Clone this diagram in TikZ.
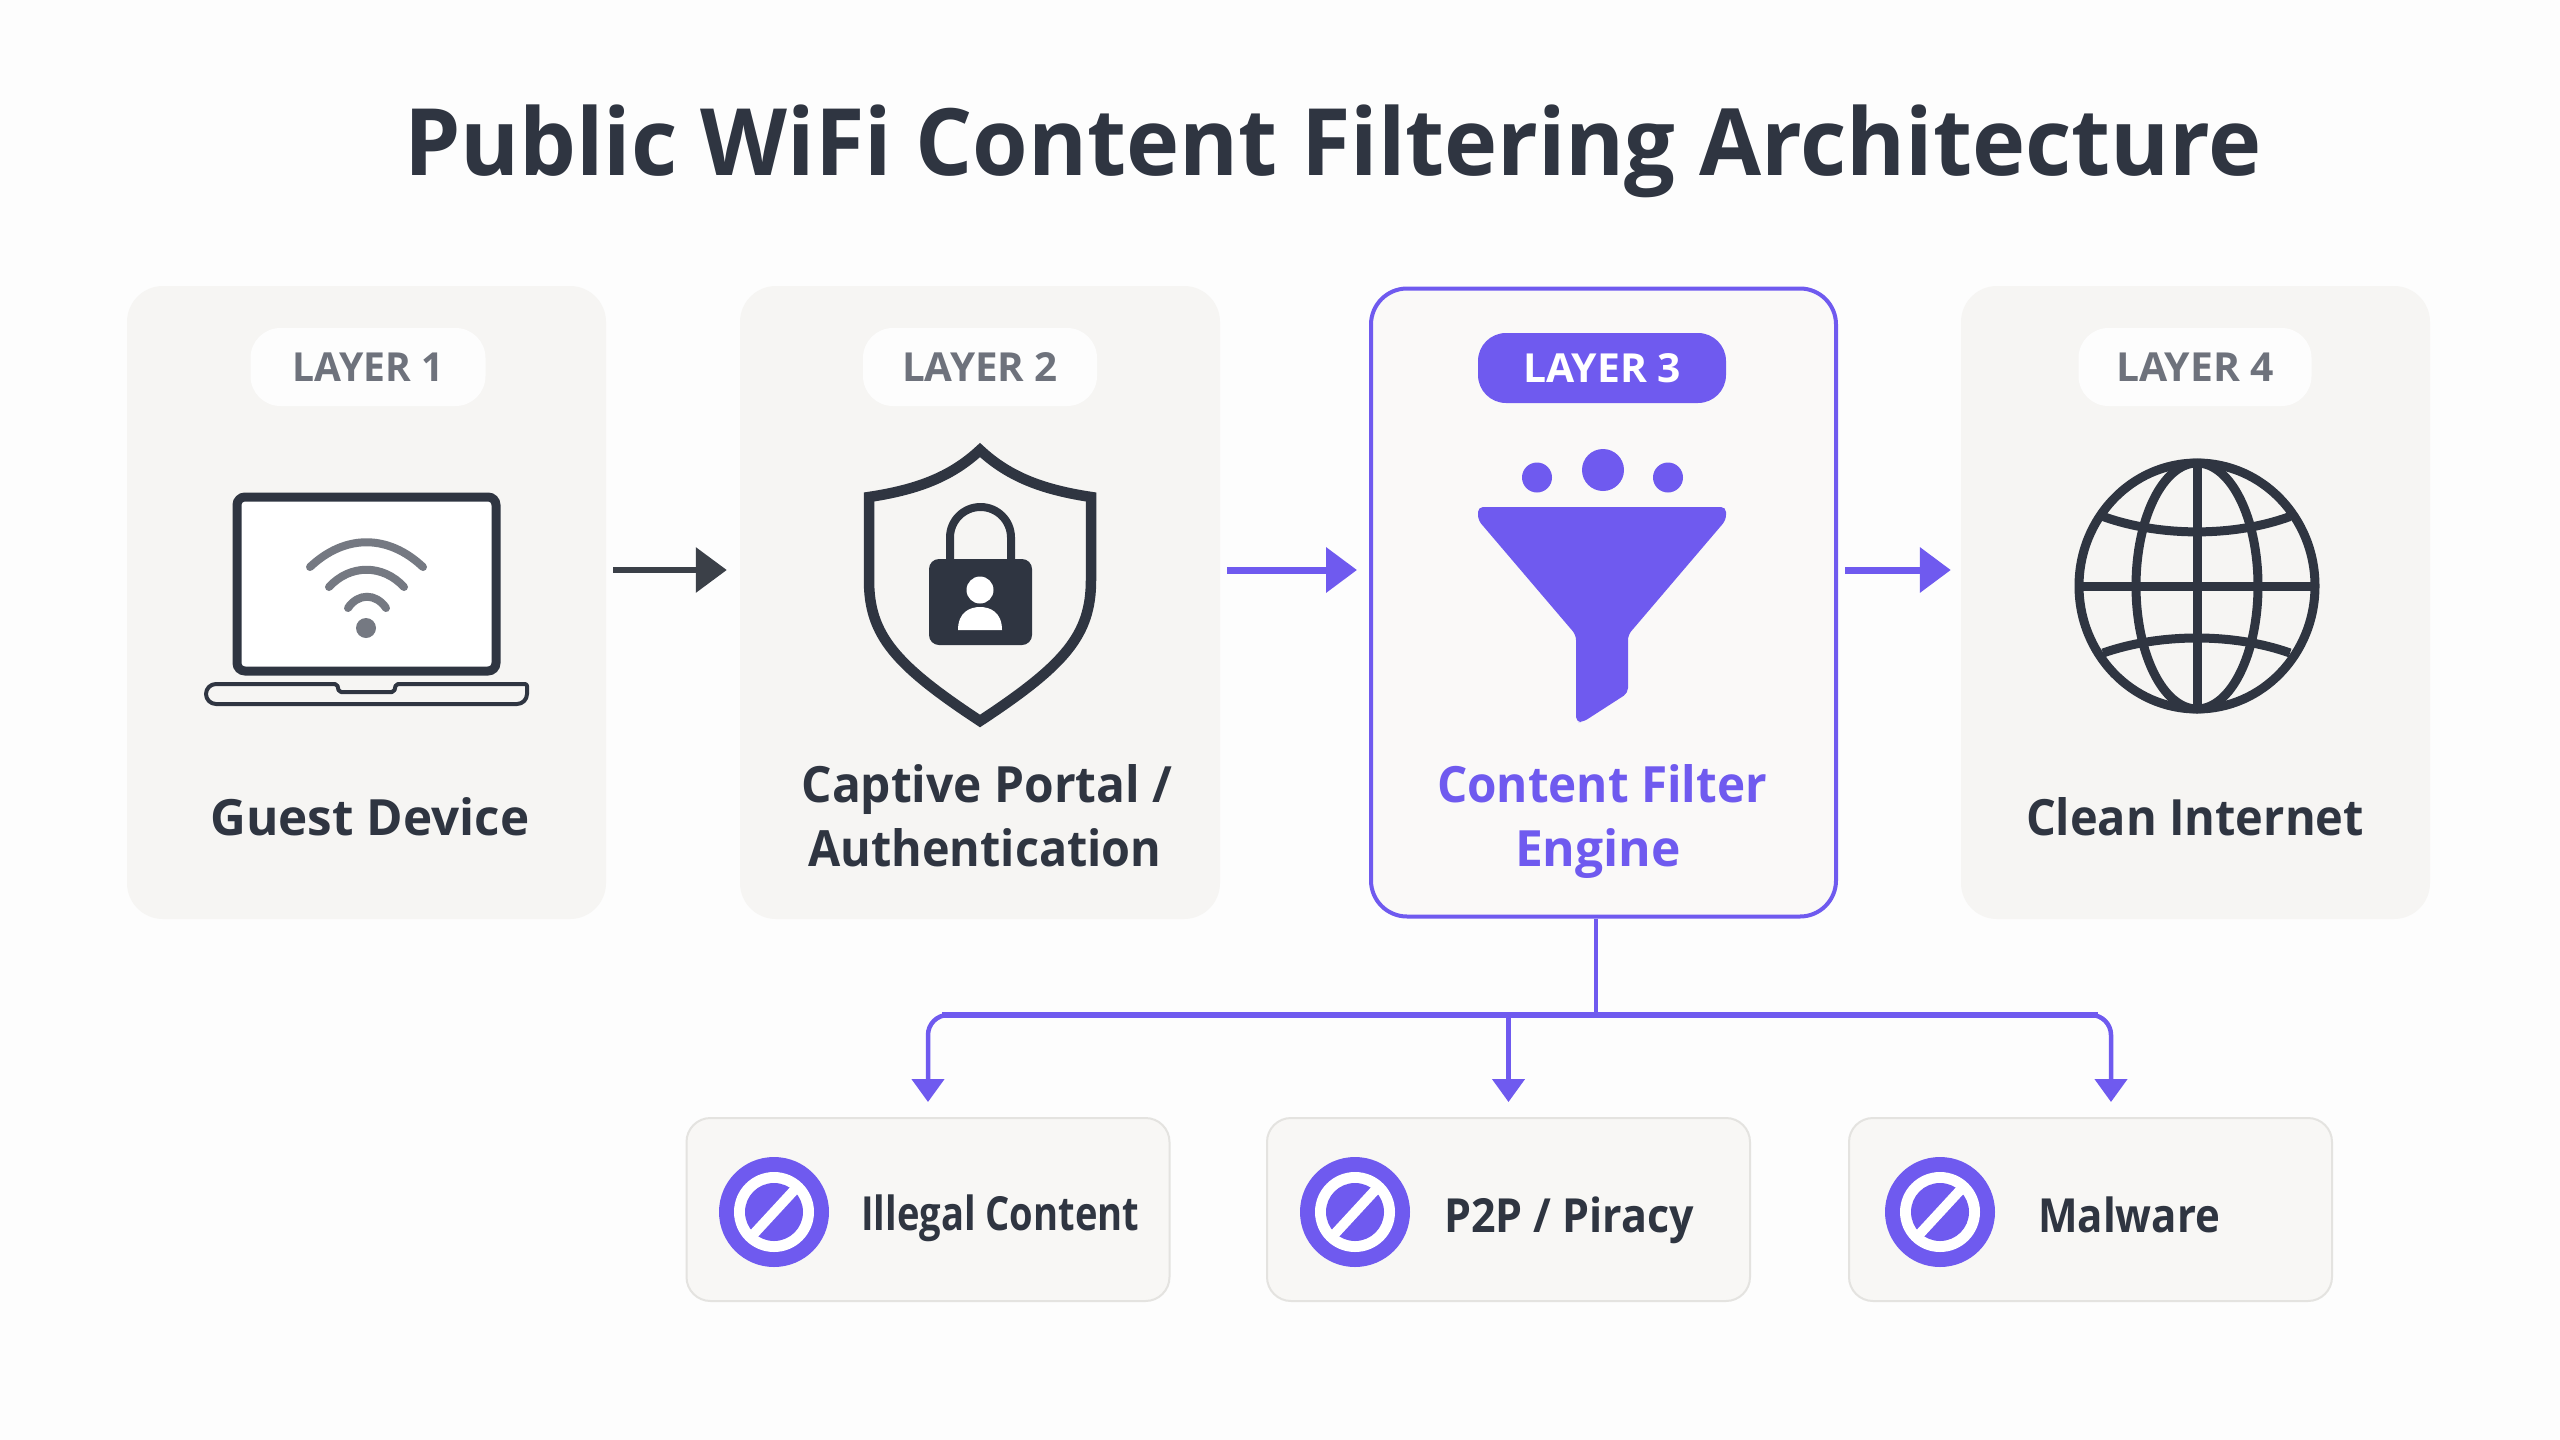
\documentclass[tikz,border=0pt]{standalone}
\usepackage{fontspec}
\usepackage{graphicx}
\setmainfont{Open Sans}
\usetikzlibrary{arrows.meta}
\definecolor{bgc}{HTML}{FDFDFD}
\definecolor{cardc}{HTML}{F6F5F3}
\definecolor{hic}{HTML}{FAF9F8}
\definecolor{boxc}{HTML}{F8F7F5}
\definecolor{boxl}{HTML}{E4E3E0}
\definecolor{purp}{HTML}{6F5AEF}
\definecolor{ink}{HTML}{2F3541}
\definecolor{arrowink}{HTML}{3B4048}
\definecolor{greyt}{HTML}{6E727C}
\definecolor{wifi}{HTML}{757982}
\newcommand{\fitw}[2]{\resizebox{#1}{\height}{#2}}
\tikzset{
 x=1pt,y=-1pt,
 card/.style={rectangle,inner sep=0pt,rounded corners=36pt,fill=cardc,minimum width=#1,minimum height=633pt},
 pill/.style={rectangle,inner sep=0pt,rounded corners=30pt,fill=bgc,minimum width=#1,minimum height=78pt,font=\fontsize{40}{40}\selectfont\bfseries,text=greyt},
 pillhi/.style={rectangle,inner sep=0pt,rounded corners=28pt,fill=purp,minimum width=248pt,minimum height=70pt,font=\fontsize{40}{40}\selectfont\bfseries,text=white},
 lbl/.style={anchor=base,inner sep=0pt,font=\fontsize{50}{50}\selectfont\bfseries,text=ink},
 lblhi/.style={lbl,text=purp},
 sub/.style={anchor=base west,inner sep=0pt,font=\fontsize{47}{47}\selectfont\bfseries,text=ink},
 blockbox/.style={rectangle,inner sep=0pt,rounded corners=24pt,fill=boxc,draw=boxl,line width=2pt,minimum width=483pt,minimum height=183pt},
 flow/.style={line width=6.5pt,-{Triangle[length=31pt,width=44pt]}},
 drop/.style={purp,line width=4.5pt,rounded corners=20pt,-{Triangle[length=23pt,width=32pt]}},
 icon/.style={ink,line width=9pt}
}
\newcommand{\noentry}[1]{%
 \fill[purp] (#1,1212) circle[radius=55];
 \fill[white] (#1,1212) circle[radius=40];
 \fill[purp] (#1,1212) circle[radius=29];
 \draw[white,line width=10pt] ({#1+24},1186) -- ({#1-24},1238);
}
\begin{document}
\begin{tikzpicture}
\useasboundingbox (0,0) rectangle (2560,1440);
\fill[bgc] (0,0) rectangle (2560,1440);

\node[anchor=base,inner sep=0pt,font=\fontsize{93}{93}\selectfont\bfseries,text=ink] (title) at (1333,175) {\fitw{1858pt}{Public WiFi Content Filtering Architecture}};

% cards
\node[card=479pt] (c1) at (366.5,602.5) {};
\node[card=480pt] (c2) at (980,602.5) {};
\node[rectangle,inner sep=0pt,rounded corners=36pt,fill=hic,draw=purp,line width=4pt,minimum width=465pt,minimum height=628pt] (c3) at (1603.5,602.5) {};
\node[card=469pt] (c4) at (2195.5,602.5) {};

% pills
\node[pill=235pt] (p1) at (368,367) {\fitw{151pt}{LAYER 1}};
\node[pill=234pt] (p2) at (980,367) {\fitw{156pt}{LAYER 2}};
\node[pillhi] (p3) at (1602,368) {\fitw{158pt}{LAYER 3}};
\node[pill=233pt] (p4) at (2195,367) {\fitw{158pt}{LAYER 4}};

% laptop
\draw[icon,fill=white,rounded corners=8pt] (237,497) rectangle (496,671);
\draw[ink,line width=4pt,line join=round] (206,684) [rounded corners=2pt] -- (337,684) -- (339,692) -- (394,692) -- (396,684) -- (527,684) [rounded corners=10pt] -- (527,704) -- (206,704) -- cycle;
\fill[wifi] (366,628) circle[radius=10];
\draw[wifi,line width=8pt,line cap=round] (310,567) .. controls (345,534) and (388,534) .. (423,567);
\draw[wifi,line width=8pt,line cap=round] (329,587) .. controls (350,564) and (383,564) .. (404,587);
\draw[wifi,line width=8pt,line cap=round] (348,608) .. controls (358,593) and (376,593) .. (386,608);

% shield
\draw[ink,line width=10.5pt,miter limit=6] (980,450) .. controls (950,478) and (915,490) .. (869,497) -- (869,580) .. controls (869,635) and (895,665) .. (980,721) .. controls (1065,665) and (1091,635) .. (1091,580) -- (1091,497) .. controls (1045,490) and (1010,478) .. (980,450) -- cycle;
\draw[ink,line width=8pt] (950,562) -- (950,537.5) arc[start angle=180,end angle=360,radius=30.5] -- (1011,562);
\fill[ink,rounded corners=10pt] (929,559) rectangle (1032,645);
\fill[white] (980,590) circle[radius=13.5];
\fill[white] (958,630) .. controls (958,612) and (970,607) .. (980,607) .. controls (990,607) and (1002,612) .. (1002,630) -- cycle;

% funnel
\fill[purp] (1537,477.5) circle[radius=15];
\fill[purp] (1603,470) circle[radius=21];
\fill[purp] (1668,477.5) circle[radius=15];
\fill[purp,rounded corners=5pt] (1478,507) -- (1726,507) -- (1726,520) -- (1628,635) -- (1628,693) -- (1583,722) -- (1576,722) -- (1576,635) -- (1478,520) -- cycle;

% globe
\draw[icon] (2197,586) ellipse[x radius=118,y radius=123];
\draw[icon] (2197,586) ellipse[x radius=61,y radius=123];
\draw[icon] (2197,463) -- (2197,709);
\draw[icon] (2079,586) -- (2315,586);
\draw[icon] (2103,516.5) .. controls (2160,537) and (2234,537) .. (2290,516.5);
\draw[icon] (2103,653) .. controls (2160,633) and (2234,633) .. (2290,653);

% labels
\node[lbl] (l1) at (370,835) {\fitw{319pt}{Guest Device}};
\node[lbl] (l2a) at (987,802) {\fitw{371pt}{Captive Portal /}};
\node[lbl] (l2b) at (985,866) {\fitw{353pt}{Authentication}};
\node[lblhi] (l3a) at (1602,802) {\fitw{330pt}{Content Filter}};
\node[lblhi] (l3b) at (1598,866) {\fitw{166pt}{Engine}};
\node[lbl] (l4) at (2195,835) {\fitw{338pt}{Clean Internet}};

% flow arrows
\draw[flow,arrowink] ([xshift=7pt,yshift=32.5pt]c1.east) -- ([xshift=-13pt,yshift=32.5pt]c2.west);
\draw[flow,purp,line width=7pt] ([xshift=7pt,yshift=32.5pt]c2.east) -- ([xshift=-12pt,yshift=32.5pt]c3.west);
\draw[flow,purp,line width=7pt] ([xshift=7pt,yshift=32.5pt]c3.east) -- ([xshift=-10pt,yshift=32.5pt]c4.west);

% blocked boxes
\node[blockbox] (b1) at (928,1209.5) {};
\node[blockbox] (b2) at (1508.5,1209.5) {};
\node[blockbox] (b3) at (2090.5,1209.5) {};
\noentry{774}
\noentry{1355}
\noentry{1940}
\node[sub] (t1) at (861,1230) {\fitw{278pt}{Illegal Content}};
\node[sub] (t2) at (1444,1232) {\fitw{250pt}{P2P / Piracy}};
\node[sub] (t3) at (2038,1232) {\fitw{182pt}{Malware}};

% tree
\coordinate (bus) at (1596,1015);
\draw[purp,line width=4.5pt] ([xshift=-7.5pt]c3.south) -- (bus);
\draw[drop] (bus) -| ([yshift=15pt]b1.north);
\draw[drop,rounded corners=0pt] (bus -| b2.north) -- ([yshift=15pt]b2.north);
\draw[drop] (bus) -| ([xshift=20.5pt,yshift=15pt]b3.north);
\draw[purp,line width=6pt] (942,1015) -- (2098,1015);
\end{tikzpicture}
\end{document}
